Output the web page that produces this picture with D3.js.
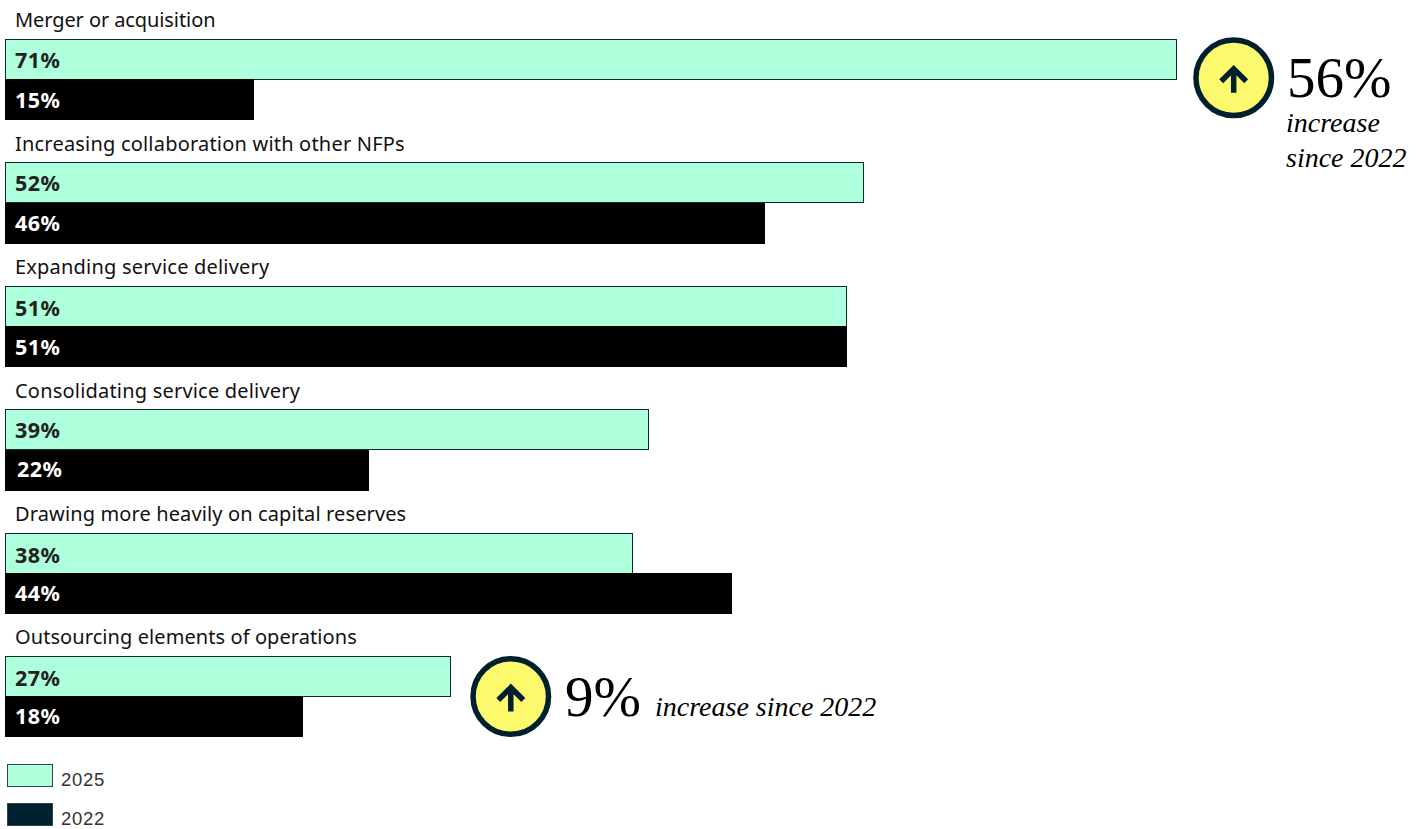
<!DOCTYPE html>
<html><head><meta charset="utf-8">
<script src="https://cdn.jsdelivr.net/npm/d3@7/dist/d3.min.js"></script>
<style>html,body{margin:0;padding:0;background:#fff}svg{display:block}</style>
</head><body><svg id="c" width="1424" height="829"></svg>
<script>
const categories = ["Merger or acquisition","Increasing collaboration with other NFPs","Expanding service delivery","Consolidating service delivery","Drawing more heavily on capital reserves","Outsourcing elements of operations"];
const values2025 = [71,52,51,39,38,27];
const values2022 = [15,46,51,22,44,18];
const legendLabels = ["2025","2022"];
const nudge2025 = [0,-0.4,1.2,-0.6,1.6,0.6];
const nudge2022 = [0,-0.4,0.2,-1.6,-1,-1.4];
const spacing = [-0.09,0.2,0.2,0.2,0.125,0.08];
const mint="#aeffdc", black="#000000", navy="#00202f", yellow="#fdf96c";
const sans="'Noto Sans',Roboto,sans-serif", serif="'Liberation Serif',serif";

const svg=d3.select("#c");
const x=d3.scaleLinear().domain([0,71]).range([5.5,1176.5]);
const y=d3.scaleBand().domain(categories).range([39.4,779.8]).paddingInner(0).paddingOuter(0).align(0);
const H=40;

const rows=svg.selectAll("g.row").data(categories).join("g").attr("class","row")
  .attr("transform",c=>`translate(0,${y(c)})`);
rows.append("text").attr("x",15).attr("y",-12).attr("font-family",sans).attr("font-size",20).attr("letter-spacing",(c,i)=>spacing[i]).attr("fill","#111").text(c=>c);
rows.append("rect").attr("x",x(0)).attr("y",0).attr("height",H)
  .attr("width",(c,i)=>x(values2025[i])-x(0)).attr("fill",mint).attr("stroke","#0b2a2a").attr("stroke-width",1).attr("shape-rendering","crispEdges");
rows.append("rect").attr("x",x(0)-0.5).attr("y",H).attr("height",H+1)
  .attr("width",(c,i)=>x(values2022[i])-x(0)+1.2).attr("fill",black).attr("shape-rendering","crispEdges");
rows.append("text").attr("x",15).attr("y",(c,i)=>28.6+nudge2025[i]).attr("font-family",sans).attr("font-weight",700).attr("font-size",21.5).attr("letter-spacing",0.4).attr("fill","#222")
  .text((c,i)=>values2025[i]+"%");
rows.append("text").attr("x",(c,i)=>values2022[i]===22?17:15).attr("y",(c,i)=>68.6+nudge2022[i]).attr("font-family",sans).attr("font-weight",700).attr("font-size",21.5).attr("letter-spacing",0.4).attr("fill","#fff")
  .text((c,i)=>values2022[i]+"%");

function badge(cx,cy){
  const g=svg.append("g").attr("transform",`translate(${cx},${cy})`);
  g.append("circle").attr("r",37.75).attr("fill",yellow).attr("stroke",navy).attr("stroke-width",5.5);
  g.append("path").attr("d","M0,15V-9M-12.5,3.5L0,-9L12.5,3.5").attr("fill","none").attr("stroke",navy).attr("stroke-width",5.5);
}
function t(px,py,size,style,txt){
  svg.append("text").attr("x",px).attr("y",py).attr("font-family",serif).attr("font-size",size).attr("font-style",style).attr("fill","#000").text(txt);
}
badge(1233.7,77.8);
t(1287,97,57,"normal","56%");
t(1286,132,28,"italic","increase");
t(1286,167,28,"italic","since 2022");
badge(510.8,696.5);
t(565,716,57,"normal","9%");
t(655,716,28,"italic","increase since 2022");

const leg=svg.selectAll("g.leg").data(legendLabels).join("g").attr("class","leg")
  .attr("transform",(d,i)=>`translate(7,${764+i*39})`);
leg.append("rect").attr("width",45).attr("height",22).attr("fill",(d,i)=>i?navy:mint).attr("stroke","#2a4a48").attr("stroke-width",1).attr("shape-rendering","crispEdges");
leg.append("text").attr("x",54).attr("y",22).attr("font-family","'Liberation Sans',sans-serif").attr("font-size",18.5).attr("letter-spacing",0.7).attr("fill","#333").text(d=>d);
</script></body></html>
